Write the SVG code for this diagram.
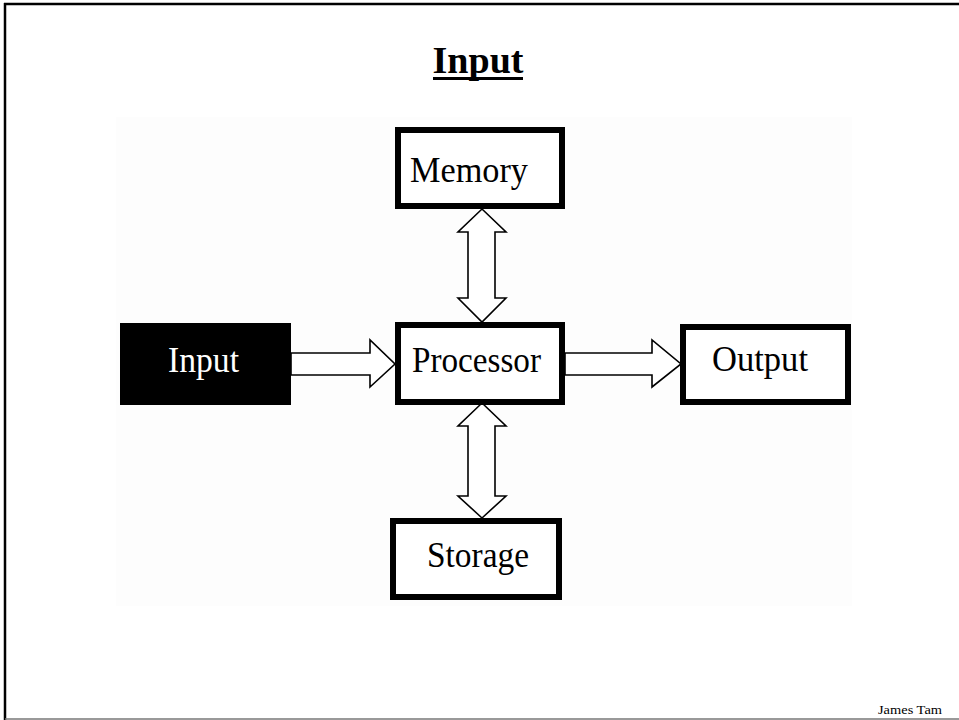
<svg xmlns="http://www.w3.org/2000/svg" width="959" height="720" viewBox="0 0 959 720">
<style>
.box{fill:#fff;stroke:#000;stroke-width:6}
.lbl{font-family:"Liberation Serif","Times New Roman",serif;font-size:35px;fill:#000}
.arr{fill:#fff;stroke:#000;stroke-width:1.6;stroke-linejoin:miter}
</style>
<rect x="0" y="0" width="959" height="720" fill="#fff"/>
<g id="frame">
<line x1="4" y1="4" x2="959" y2="4" stroke="#000" stroke-width="2.5"/>
<line x1="5" y1="3" x2="5" y2="720" stroke="#000" stroke-width="2.5"/>
<line x1="5" y1="719" x2="959" y2="719" stroke="#777" stroke-width="1.5"/>
</g>
<rect x="116" y="117" width="736" height="489" fill="#fdfdfd"/>
<g id="title">
<text x="478" y="73" text-anchor="middle" style="font-family:'Liberation Serif','Times New Roman',serif;font-size:38px;font-weight:bold">Input</text>
<rect x="433" y="77" width="90" height="3" fill="#000"/>
</g>
<g id="connectors">
<path class="arr" d="M482,209 L506,232 L495,232 L495,298 L506,298 L482,322 L458,298 L468,298 L468,232 L458,232 Z"/>
<path class="arr" d="M482,403 L506,426 L495,426 L495,496 L506,496 L482,518 L458,496 L468,496 L468,426 L458,426 Z"/>
<path class="arr" d="M291,353 L370,353 L370,340 L395,364 L370,387 L370,375 L291,375 Z"/>
<path class="arr" d="M565,353 L652,353 L652,340 L681,364 L652,387 L652,375 L565,375 Z"/>
</g>
<g id="memory">
<rect class="box" x="398" y="130" width="164" height="76"/>
<text class="lbl" x="410" y="182" textLength="118" lengthAdjust="spacingAndGlyphs">Memory</text>
</g>
<g id="input">
<rect x="120" y="323" width="171" height="82" fill="#000"/>
<text class="lbl" x="168" y="372" textLength="71" lengthAdjust="spacingAndGlyphs" style="fill:#fff">Input</text>
</g>
<g id="processor">
<rect class="box" x="398" y="325" width="164" height="77"/>
<text class="lbl" x="412" y="372" textLength="129" lengthAdjust="spacingAndGlyphs">Processor</text>
</g>
<g id="output">
<rect class="box" x="683" y="327" width="165" height="75"/>
<text class="lbl" x="712" y="371" textLength="96" lengthAdjust="spacingAndGlyphs">Output</text>
</g>
<g id="storage">
<rect class="box" x="393" y="521" width="166" height="76"/>
<text class="lbl" x="427" y="567" textLength="102" lengthAdjust="spacingAndGlyphs">Storage</text>
</g>
<g id="footer">
<text x="878" y="714" textLength="64" lengthAdjust="spacingAndGlyphs" style="font-family:'Liberation Serif','Times New Roman',serif;font-size:12px">James Tam</text>
</g>
</svg>
